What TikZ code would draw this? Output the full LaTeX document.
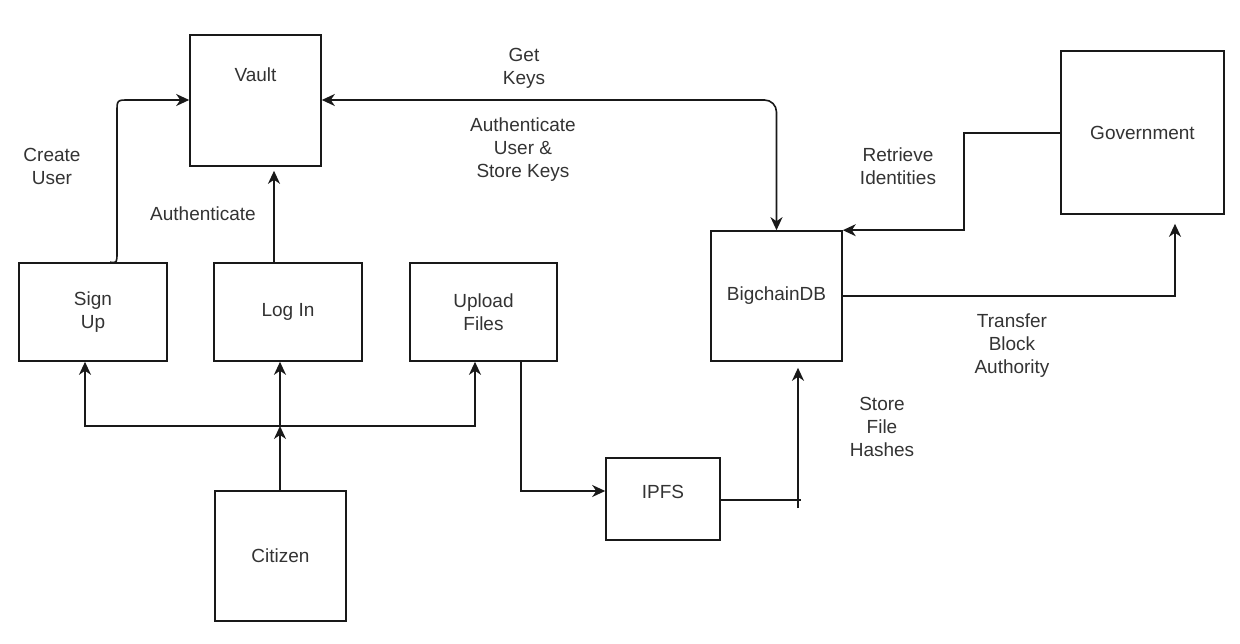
\documentclass[tikz,border=0pt]{standalone}
\usepackage{fontspec}
\setmainfont{Liberation Sans}
\usetikzlibrary{arrows.meta}
\begin{document}
\begin{tikzpicture}[x=1pt,y=-1pt,
  box/.style={draw=black!90, line width=1.6pt, fill=white, inner sep=0pt, text=black!80, font=\fontsize{19}{23}\selectfont, align=center},
  lbl/.style={text=black!80, font=\fontsize{19}{23}\selectfont, align=center, inner sep=0pt},
  conn/.style={draw=black!90, line width=1.6pt},
  tip/.tip={Stealth[length=13pt,width=12pt,inset=4pt]},
  arr/.style={conn, -tip},
]
\useasboundingbox (0,0) rectangle (1240,644);

% boxes
\node[box, minimum width=131pt, minimum height=131pt,
      label={[lbl,anchor=center,yshift=-41pt]north:Vault}] (vault) at (255.5,100.5) {};
\node[box, minimum width=148pt, minimum height=98pt] (signup) at (93,312) {Sign\\Up};
\node[box, minimum width=148pt, minimum height=98pt] (login) at (288,312) {Log In};
\node[box, minimum width=147pt, minimum height=98pt] (upload) at (483.5,312) {Upload\\Files};
\node[box, minimum width=131pt, minimum height=130pt] (citizen) at (280.5,556) {Citizen};
\node[box, minimum width=114pt, minimum height=82pt,
      label={[lbl,anchor=center,yshift=7pt]center:IPFS}] (ipfs) at (663,499) {};
\node[box, minimum width=131pt, minimum height=130pt] (bigchain) at (776.5,296) {BigchainDB};
\node[box, minimum width=163pt, minimum height=163pt] (gov) at (1142.5,132.5) {Government};

% helper coordinates
\coordinate (bus) at (280,426);
\coordinate (busL) at (85,426);
\coordinate (busR) at (475,426);
\coordinate (xa) at (274,0);
\coordinate (su) at (110,0);
\coordinate (yv) at (0,100);
\coordinate (gy) at (0,133);
\coordinate (rt) at (964,0);
\coordinate (tx) at (1175,0);
\coordinate (ux) at (521,0);
\coordinate (ipin) at (0,491);
\coordinate (ipout) at (0,500);
\coordinate (tickend) at (801,500);
\coordinate (btm) at (798,508);

% citizen fan-out
\draw[arr] (citizen.north -| bus) -- (bus);
\draw[arr] (bus) -- (login.south -| bus);
\draw[arr] (bus) -- (busL) -- (busL |- signup.south);
\draw[arr] (bus) -- (busR) -- (busR |- upload.south);

% to vault
\draw[arr, shorten >=4pt] (login.north -| xa) -- (vault.south -| xa);
\draw[arr] (signup.north -| su) .. controls (117,263) .. (117,252) -- (117,112)
      .. controls (117,100) .. (129,100) -- (vault.west |- yv);

% vault <-> bigchain
\draw[conn, tip-tip, rounded corners=12pt] (vault.east |- yv) -| (bigchain.north);

% government -> bigchain
\draw[arr] (gov.west |- gy) -- (rt |- gy) -- (rt |- bigchain.north east) -- (bigchain.north east);

% bigchain -> government
\draw[arr, shorten >=9pt] (bigchain.east) -- (bigchain.east -| tx) -- (tx |- gov.south);

% upload -> ipfs
\draw[arr] (upload.south -| ux) |- (ipfs.west |- ipin);

% ipfs -> bigchain
\draw[conn] (ipfs.east |- ipout) -- (tickend);
\draw[arr, shorten >=6pt] (btm) -- (btm |- bigchain.south);

% labels
\node[lbl] (lcreate) at (52,166) {Create\\User};
\node[lbl] (lauth) at (203,214) {Authenticate};
\node[lbl] (lget) at (524,68.5) {Get\\Keys};
\node[lbl] (lstore) at (523,150) {Authenticate\\User \&\\Store Keys};
\node[lbl] (lretr) at (898,166) {Retrieve\\Identities};
\node[lbl] (ltrans) at (1012,346) {Transfer\\Block\\Authority};
\node[lbl] (lhash) at (882,427) {Store\\File\\Hashes};
\end{tikzpicture}
\end{document}
